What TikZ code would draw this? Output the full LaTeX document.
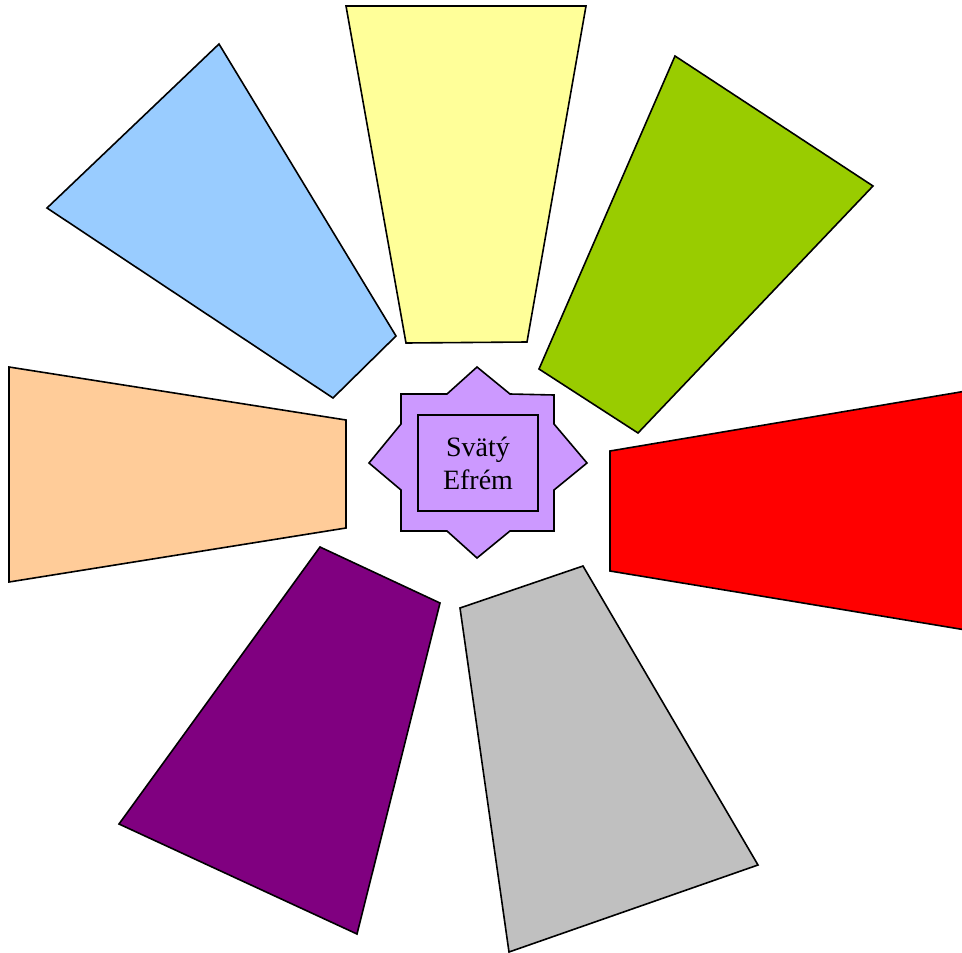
\documentclass[tikz,border=0pt]{standalone}
\usepackage{fontspec}
\setmainfont{Liberation Serif}
\begin{document}
\begin{tikzpicture}[x=1pt, y=-1pt,
  petal/.style={draw=black, line width=1.6pt, line join=miter},
  starshape/.style={draw=black, line width=1.6pt, fill=starfill},
  namebox/.style={draw=black, line width=1.6pt, minimum width=120pt,
    minimum height=96pt, align=center, inner sep=0pt,
    font=\fontsize{28}{33}\selectfont},
]
\definecolor{yellowfill}{HTML}{FFFF99}
\definecolor{greenfill}{HTML}{99CC00}
\definecolor{redfill}{HTML}{FF0000}
\definecolor{grayfill}{HTML}{C0C0C0}
\definecolor{purplefill}{HTML}{800080}
\definecolor{peachfill}{HTML}{FFCC99}
\definecolor{bluefill}{HTML}{99CCFF}
\definecolor{starfill}{HTML}{CC99FF}

\useasboundingbox (0,0) rectangle (962,953);
\clip (0,0) rectangle (962,953);

% Petals round the star
\draw[petal, fill=yellowfill] (346,6) -- (586,6) -- (527,342) -- (406,343) -- cycle;
\draw[petal, fill=greenfill] (675,56) -- (873,186) -- (638,433) -- (539,369) -- cycle;
\draw[petal, fill=redfill] (990,387) -- (990,634) -- (610,571) -- (610,451) -- cycle;
\draw[petal, fill=grayfill] (583,566) -- (758,865) -- (509,952) -- (460,608) -- cycle;
\draw[petal, fill=purplefill] (440,603) -- (357,934) -- (119,824) -- (320,547) -- cycle;
\draw[petal, fill=peachfill] (9,367) -- (346,420) -- (346,528) -- (9,582) -- cycle;
\draw[petal, fill=bluefill] (219,44) -- (396,336) -- (333,398) -- (47,208) -- cycle;

% Star in the middle
\draw[starshape] (477,367) -- (510,394) -- (554,395) -- (554,424) -- (587,463)
  -- (554,490) -- (554,531) -- (510,531) -- (477,558) -- (447,531)
  -- (401,531) -- (401,490) -- (369,463) -- (401,424) -- (401,394)
  -- (447,394) -- cycle;
\node[namebox] (efrem) at (478,463) {Svätý\\Efrém};

\end{tikzpicture}
\end{document}
